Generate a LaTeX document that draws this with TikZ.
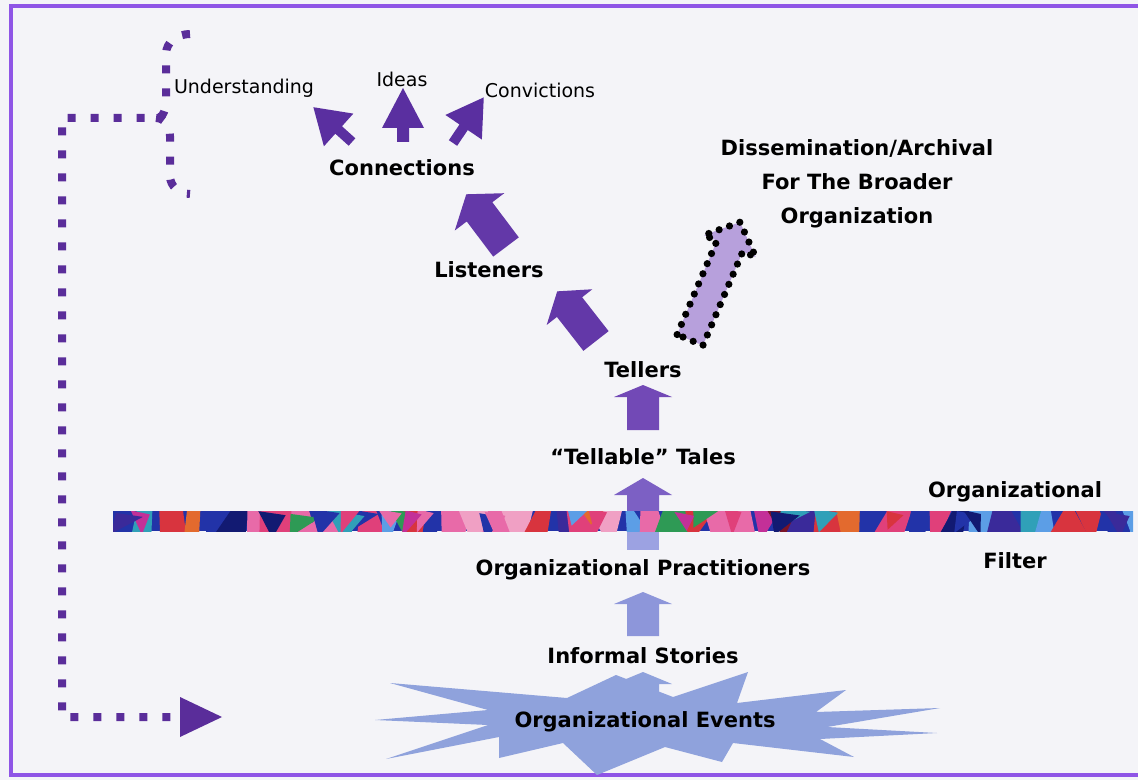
\documentclass[tikz,border=0pt]{standalone}
\usepackage{fontspec}
\setmainfont{DejaVu Sans}
\definecolor{bgc}{HTML}{F4F4F8}
\definecolor{bordc}{HTML}{8F55E6}
\definecolor{dotc}{HTML}{5A2D9A}
\definecolor{darkp}{HTML}{5A2FA0}
\definecolor{midp}{HTML}{6338A8}
\definecolor{tellp}{HTML}{7249B6}
\definecolor{tabp}{HTML}{7C60C4}
\definecolor{lowp}{HTML}{9CA2E2}
\definecolor{pracp}{HTML}{8D96DA}
\definecolor{starc}{HTML}{8FA2DC}
\definecolor{dissc}{HTML}{B7A0DC}
\definecolor{mA}{HTML}{E0407A}
\definecolor{mB}{HTML}{2233A8}
\definecolor{mC}{HTML}{121A72}
\definecolor{mD}{HTML}{30A0B8}
\definecolor{mE}{HTML}{5C9EE6}
\definecolor{mF}{HTML}{D8343E}
\definecolor{mG}{HTML}{E36A2E}
\definecolor{mH}{HTML}{7A1426}
\definecolor{mI}{HTML}{C33098}
\definecolor{mJ}{HTML}{2E9A55}
\definecolor{mK}{HTML}{F0A0C4}
\definecolor{mL}{HTML}{3A2A9A}
\definecolor{mM}{HTML}{E86AA8}
\newcommand\barrow[8]{%
  \fill[#1, shift={(#2,#3)}, rotate=#4] (0,-#6) -- ({#5-#8},-#6) -- ({#5-#8},-#7) -- (#5,0) -- ({#5-#8},#7) -- ({#5-#8},#6) -- (0,#6) -- cycle;}
\pgfmathdeclarerandomlist{mosA}{{mA}{mB}{mC}{mD}{mE}{mF}{mG}{mH}{mI}{mJ}{mK}{mL}{mM}{mA}{mM}{mB}{mE}}
\pgfmathdeclarerandomlist{mosB}{{mB}{mC}{mL}{mB}{mC}{mE}{mF}{mA}{mD}{mB}{mL}}
\begin{document}
\begin{tikzpicture}[x=0.5pt,y=-0.5pt,
  lbl/.style={font=\fontsize{10.5}{17}\selectfont\bfseries, text=black, inner sep=0pt},
  sml/.style={font=\fontsize{9.5}{11}\selectfont, text=black, inner sep=0pt},
  dotpath/.style={draw=dotc, line width=4pt, dash pattern=on 4pt off 7.5pt},
  dissarrow/.style={fill=dissc, draw=black, line width=3.6pt, line cap=round, dash pattern=on 0pt off 5.5pt}]
\useasboundingbox (0,0) rectangle (1138,780);
\fill[bgc] (0,0) rectangle (1138,780);
\draw[bordc, line width=2pt] (1140,6) -- (11,6) -- (11,775) -- (1140,775);

% dotted feedback path
\draw[dotpath] (190,34) to[out=180,in=90] (166,54) -- (166,100) to[out=-90,in=0] (156,118) -- (62,118) -- (62,717) -- (182,717);
\draw[dotpath] (156,118) to[out=0,in=90] (170,136) -- (170,176) to[out=-90,in=180] (190,194);
\coordinate (fbend) at (182,717);
\coordinate (fbtip) at (222,717);
\fill[dotc] (180,697) -- (fbtip) -- (180,737) -- cycle;

% star
\fill[starc] (390,683) -- (567,698) -- (616,675) -- (673,697) -- (748,672) -- (737,703) -- (846,690) -- (816,712) -- (940,708) -- (827,727) -- (937,733) -- (820,739) -- (854,757) -- (733,743) -- (722,762) -- (665,747) -- (597,775) -- (563,743) -- (499,758) -- (499,737) -- (386,759) -- (488,725) -- (375,720) -- (488,710) -- cycle;

% block arrows
\barrow{darkp}{352}{142}{138}{52}{5}{22}{34}
\barrow{darkp}{403}{142}{90}{54}{6}{21}{40}
\barrow{darkp}{453}{143}{56}{55}{5}{22}{36}
\barrow{midp}{506}{247}{127}{66}{16}{31}{22}
\barrow{midp}{596}{341}{128}{63}{16}{29}{20}
\barrow{tellp}{643}{430}{90}{45}{16}{29}{12}
\fill[lowp] (627,515) rectangle (659,550);
\barrow{tabp}{643}{518}{90}{40}{16}{29}{17}
\barrow{pracp}{643}{636}{90}{44}{16}{29}{12}
\barrow{starc}{643}{705}{90}{33}{16}{29}{12}

% dissemination arrow
\draw[dissarrow, shift={(690,340)}, rotate=67] (0,-14) -- (102,-14) -- (102,-28) -- (128,0) -- (102,28) -- (102,14) -- (0,14) -- cycle;

% organizational filter bar
\begin{scope}
\clip (113,511) rectangle (1133,531);
\fill[mB] (113,511) rectangle (1133,531);
\pgfmathsetseed{11}
\foreach \i in {0,...,46}{
  \ifnum\i>33 \pgfmathrandomitem{\cc}{mosB}\else \pgfmathrandomitem{\cc}{mosA}\fi
  \pgfmathsetmacro\xa{113+\i*22+rand*9}
  \pgfmathsetmacro\xb{135+\i*22+rand*9}
  \pgfmathsetmacro\xc{135+\i*22+rand*9}
  \pgfmathsetmacro\xd{113+\i*22+rand*9}
  \fill[\cc] (\xa,509) -- (\xb,509) -- (\xc,533) -- (\xd,533) -- cycle;
}
\foreach \j in {1,...,28}{
  \pgfmathsetmacro\xx{113+rnd*1020}
  \ifdim\xx pt>860pt \pgfmathrandomitem{\cc}{mosB}\else \pgfmathrandomitem{\cc}{mosA}\fi
  \pgfmathsetmacro\yy{506+rnd*8}
  \pgfmathsetmacro\xe{\xx+16+rnd*14}
  \pgfmathsetmacro\xf{\xx-6+rnd*24}
  \pgfmathsetmacro\yf{\yy+18+rnd*10}
  \fill[\cc] (\xx,\yy) -- (\xe,{\yy+4}) -- (\xf,\yf) -- cycle;
}
\end{scope}

% labels
\node[sml] (und) at (244,88) {Understanding};
\node[sml] (ideas) at (402,79) {Ideas};
\node[sml] (conv) at (540,90) {Convictions};
\node[lbl] (conn) at (402,168) {Connections};
\node[lbl, align=center] (diss) at (857,184) {Dissemination/Archival\\For The Broader\\Organization};
\node[lbl] (list) at (489,270) {Listeners};
\node[lbl] (tell) at (643,370) {Tellers};
\node[lbl] (tt) at (643,457) {“Tellable” Tales};
\node[lbl] (orgf) at (1015,492) {Organizational};
\node[lbl] (prac) at (643,570) {Organizational Practitioners};
\node[lbl] (filt) at (1015,561) {Filter};
\node[lbl] (inf) at (643,656) {Informal Stories};
\node[lbl] (ev) at (645,722) {Organizational Events};
\end{tikzpicture}
\end{document}
